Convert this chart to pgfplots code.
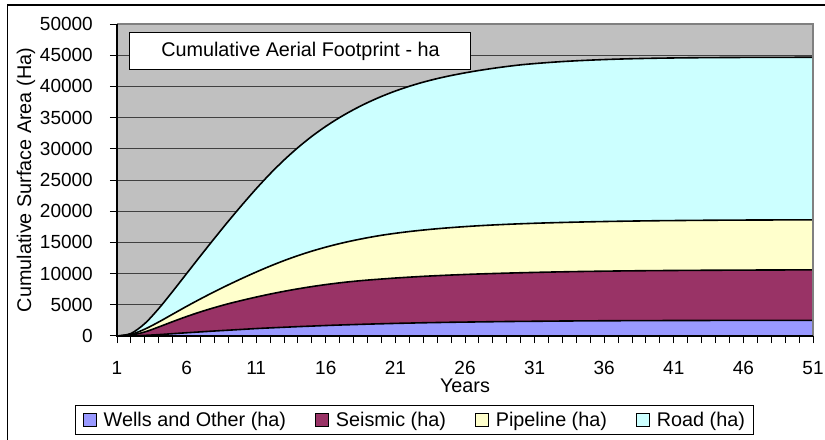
\documentclass[border=0pt]{standalone}
\usepackage{fontspec}
\setmainfont{Liberation Sans}
\usepackage{pgfplots}
\usepackage{pgfplotstable}
\pgfplotsset{compat=1.18}

\definecolor{plotgray}{HTML}{C0C0C0}
\definecolor{bordergray}{HTML}{808080}
\definecolor{wells}{HTML}{9999FF}
\definecolor{seismic}{HTML}{993366}
\definecolor{pipeline}{HTML}{FFFFCC}
\definecolor{road}{HTML}{CCFFFF}

% Cumulative stacked totals (ha): W = wells, S = +seismic, P = +pipeline, R = +road
\pgfplotstableread{
year W S P R
1 0 0 0 0
2 30 150 250 400
3 100 650 1100 2000
4 220 1450 2250 4400
5 370 2300 3500 7150
6 520 3120 4750 10000
7 660 3870 5950 12850
8 800 4550 7100 15650
9 930 5170 8200 18400
10 1060 5720 9250 21050
11 1190 6240 10250 23600
12 1300 6720 11200 26000
13 1400 7160 12080 28200
14 1500 7560 12880 30200
15 1590 7920 13600 32000
16 1680 8240 14240 33600
17 1760 8520 14810 35020
18 1830 8760 15310 36280
19 1900 8960 15750 37400
20 1960 9130 16140 38390
21 2020 9290 16460 39260
22 2070 9430 16740 40020
23 2120 9560 16980 40680
24 2160 9670 17190 41250
25 2200 9770 17370 41740
26 2230 9860 17530 42170
27 2260 9940 17670 42550
28 2290 10010 17790 42890
29 2320 10075 17895 43190
30 2340 10135 17985 43455
31 2360 10190 18065 43655
32 2380 10240 18135 43830
33 2400 10285 18195 43980
34 2415 10325 18250 44105
35 2430 10360 18300 44210
36 2440 10390 18345 44300
37 2450 10420 18385 44375
38 2460 10445 18420 44437
39 2470 10465 18450 44487
40 2475 10485 18478 44527
41 2480 10500 18500 44559
42 2485 10515 18520 44584
43 2490 10530 18540 44604
44 2493 10540 18555 44620
45 2495 10550 18570 44632
46 2497 10560 18580 44642
47 2498 10570 18590 44650
48 2499 10578 18597 44656
49 2500 10585 18603 44661
50 2500 10592 18607 44665
51 2500 10600 18610 44668
}\footprint

\newcommand{\chartfont}{\fontsize{19.8bp}{23bp}\selectfont}
\newcommand{\tickfont}{\fontsize{19bp}{22bp}\selectfont}

\begin{document}
\begin{tikzpicture}
\useasboundingbox (0,0) rectangle (825bp,440bp);
% outer chart frame
\draw[line width=1.3bp] (7.3bp,-2bp) -- (7.3bp,435bp) -- (827bp,435bp);

\begin{axis}[
  at={(117bp,104bp)}, anchor=south west,
  scale only axis, width=696bp, height=312bp,
  xmin=1, xmax=51, ymin=0, ymax=50000,
  xtick={1,6,...,51}, minor xtick={1,...,51},
  ytick={0,5000,...,50000},
  xtick pos=left, ytick pos=left,
  tick align=outside,
  major tick length=7bp, minor tick length=7bp,
  every tick/.style={black, line width=1bp},
  scaled y ticks=false,
  /pgf/number format/1000 sep={},
  /pgf/number format/assume math mode=true,
  ymajorgrids,
  grid style={black!75, line width=0.8bp},
  axis background/.style={fill=plotgray},
  axis line style={draw=none},
  tick label style={font=\tickfont},
  xticklabel style={inner sep=0pt, anchor=base, yshift=-31bp},
  yticklabel style={inner sep=0pt, anchor=east, xshift=-17bp},
  xlabel={Years},
  ylabel={Cumulative Surface Area (Ha)},
  label style={font=\chartfont},
  xlabel style={at={(axis description cs:0.5,-0.1795)}, anchor=base, inner sep=0pt},
  ylabel style={at={(axis description cs:-0.1307,0.5)}, anchor=center},
  legend columns=4,
  reverse legend,
  legend style={
    at={(0.428,-0.317)}, anchor=south,
    draw=black, line width=1bp, fill=white,
    font=\chartfont,
    inner xsep=7bp, inner ysep=4.5bp,
    /tikz/every odd column/.append style={column sep=5bp},
    /tikz/every even column/.append style={column sep=27bp},
  },
  legend image code/.code={%
    \draw[#1, draw=black, line width=0.9bp] (0bp,-6.5bp) rectangle (13bp,6.5bp);
  },
  after end axis/.code={
    \draw[bordergray, line width=2bp] (rel axis cs:0,1) -- (rel axis cs:1,1) -- (rel axis cs:1,0);
    \draw[black, line width=1.3bp] (rel axis cs:0,1) -- (rel axis cs:0,0) -- (rel axis cs:1,0);
  },
]
\addplot[draw=black, line width=1.6bp, fill=road, smooth]
  table[x=year, y=R] {\footprint} \closedcycle;
\addlegendentry{Road (ha)}
\addplot[draw=black, line width=1.6bp, fill=pipeline, smooth]
  table[x=year, y=P] {\footprint} \closedcycle;
\addlegendentry{Pipeline (ha)}
\addplot[draw=black, line width=1.6bp, fill=seismic, smooth]
  table[x=year, y=S] {\footprint} \closedcycle;
\addlegendentry{Seismic (ha)}
\addplot[draw=black, line width=1.6bp, fill=wells, smooth]
  table[x=year, y=W] {\footprint} \closedcycle;
\addlegendentry{Wells and Other (ha)}

\node[draw=black, line width=1bp, fill=white, minimum width=341bp,
      minimum height=37bp, inner sep=0pt, font=\chartfont]
  at (rel axis cs:0.2636,0.912) {Cumulative Aerial Footprint - ha};
\end{axis}
\end{tikzpicture}
\end{document}
